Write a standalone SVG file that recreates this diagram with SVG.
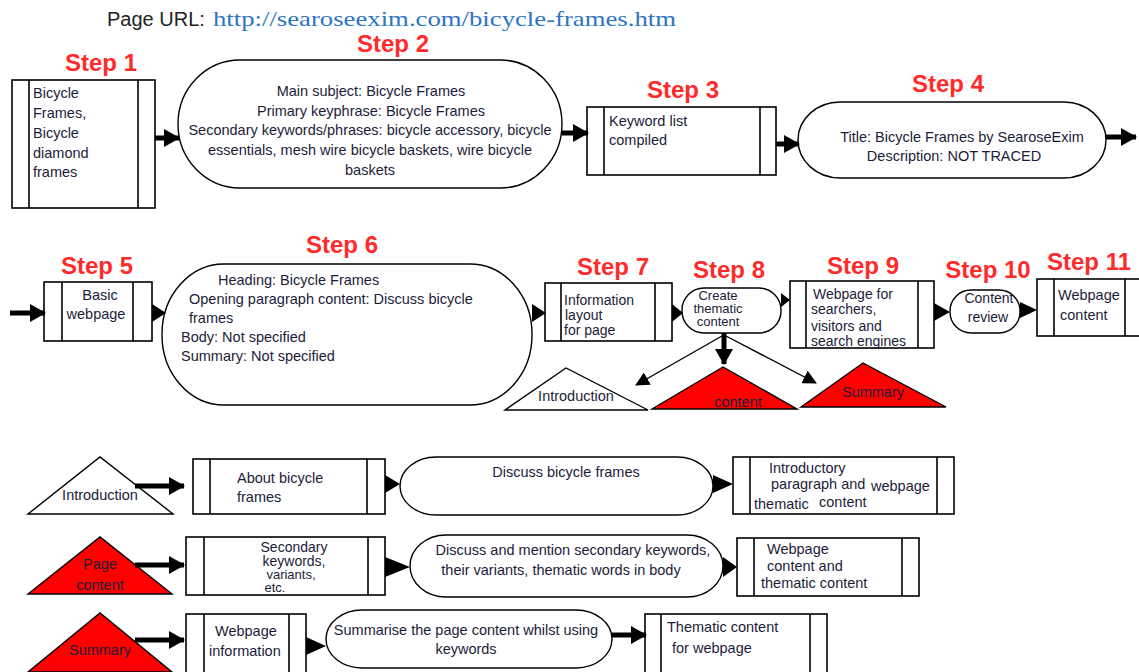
<svg xmlns="http://www.w3.org/2000/svg" width="1139" height="672" viewBox="0 0 1139 672">
<style>
  .bg { fill: #ffffff; }
  .box { fill: #ffffff; stroke: #000; stroke-width: 1.6; }
  .ln { stroke: #000; stroke-width: 1.6; fill: none; }
  .pill { fill: #ffffff; stroke: #000; stroke-width: 1.4; }
  .tri-w { fill: #ffffff; stroke: #000; stroke-width: 1.4; }
  .tri-r { fill: #ff0000; stroke: #000; stroke-width: 1.4; }
  .t { font-family: "Liberation Sans", Arial, sans-serif; font-size: 14.5px; fill: #1c1c3a; }
  .s14 { font-size: 14px; }
  .s13 { font-size: 13px; }
  .tc { text-anchor: middle; }
  .step { font-family: "Liberation Sans", Arial, sans-serif; font-size: 24px; font-weight: bold; fill: #ff2b2b; text-anchor: middle; }
  .thick { stroke: #000; stroke-width: 5; fill: none; marker-end: url(#head); }
  .thin { stroke: #000; stroke-width: 1.4; fill: none; marker-end: url(#headThin); }
  .tip { fill: #000; }
</style>
<defs>
  <marker id="head" markerUnits="userSpaceOnUse" markerWidth="16" markerHeight="18" refX="15" refY="9" orient="auto">
    <path d="M0,0 L16,9 L0,18 z" fill="#000"/>
  </marker>
  <marker id="headThin" markerUnits="userSpaceOnUse" markerWidth="14" markerHeight="14" refX="13" refY="7" orient="auto">
    <path d="M0,0 L14,7 L0,14 z" fill="#000"/>
  </marker>
</defs>
<rect class="bg" x="0" y="0" width="1139" height="672"/>

<g id="title">
  <text x="107" y="26" font-family="Liberation Sans, Arial, sans-serif" font-size="20" fill="#222">Page URL:</text>
  <text x="213" y="26" font-family="Liberation Serif, Times New Roman, serif" font-size="21" fill="#2e74c0" textLength="463" lengthAdjust="spacingAndGlyphs">http://searoseexim.com/bicycle-frames.htm</text>
</g>

<g id="step-labels">
  <text class="step" x="101" y="71">Step 1</text>
  <text class="step" x="393" y="52">Step 2</text>
  <text class="step" x="683" y="98">Step 3</text>
  <text class="step" x="948" y="92">Step 4</text>
  <text class="step" x="97" y="274">Step 5</text>
  <text class="step" x="342" y="253">Step 6</text>
  <text class="step" x="613" y="275">Step 7</text>
  <text class="step" x="729" y="278">Step 8</text>
  <text class="step" x="863" y="274">Step 9</text>
  <text class="step" x="988" y="278">Step 10</text>
  <text class="step" x="1089" y="270">Step 11</text>
</g>

<g id="step1">
  <rect class="box" x="12" y="80" width="143" height="128"/>
  <line class="ln" x1="29" y1="80" x2="29" y2="208"/>
  <line class="ln" x1="138" y1="80" x2="138" y2="208"/>
  <text class="t" x="33" y="98">Bicycle</text>
  <text class="t" x="33" y="118">Frames,</text>
  <text class="t" x="33" y="138">Bicycle</text>
  <text class="t" x="33" y="158">diamond</text>
  <text class="t" x="33" y="177">frames</text>
</g>

<g id="step2">
  <rect class="pill" x="178" y="60" width="384" height="128" rx="62" ry="64"/>
  <text class="t tc" x="371" y="96">Main subject: Bicycle Frames</text>
  <text class="t tc" x="371" y="116">Primary keyphrase: Bicycle Frames</text>
  <text class="t tc" x="370" y="135">Secondary keywords/phrases: bicycle accessory, bicycle</text>
  <text class="t tc" x="370" y="155">essentials, mesh wire bicycle baskets, wire bicycle</text>
  <text class="t tc" x="370" y="175">baskets</text>
</g>

<g id="step3">
  <rect class="box" x="587" y="107" width="189" height="68"/>
  <line class="ln" x1="604" y1="107" x2="604" y2="175"/>
  <line class="ln" x1="760" y1="107" x2="760" y2="175"/>
  <text class="t" x="609" y="126">Keyword list</text>
  <text class="t" x="609" y="145">compiled</text>
</g>

<g id="step4">
  <rect class="pill" x="798" y="102" width="308" height="76" rx="42" ry="38"/>
  <text class="t tc" x="962" y="142">Title: Bicycle Frames by SearoseExim</text>
  <text class="t tc" x="954" y="161">Description: NOT TRACED</text>
</g>

<g id="step5">
  <rect class="box" x="44" y="282" width="108" height="59"/>
  <line class="ln" x1="62" y1="282" x2="62" y2="341"/>
  <line class="ln" x1="133" y1="282" x2="133" y2="341"/>
  <text class="t tc" x="100" y="300">Basic</text>
  <text class="t tc" x="96" y="319">webpage</text>
</g>

<g id="step6">
  <rect class="pill" x="162" y="264" width="370" height="141" rx="62" ry="70"/>
  <text class="t" x="218" y="285">Heading: Bicycle Frames</text>
  <text class="t" x="189" y="304">Opening paragraph content: Discuss bicycle</text>
  <text class="t" x="189" y="323">frames</text>
  <text class="t" x="181" y="342">Body: Not specified</text>
  <text class="t" x="181" y="361">Summary: Not specified</text>
</g>

<g id="step7">
  <rect class="box" x="545" y="283" width="127" height="58"/>
  <line class="ln" x1="561" y1="283" x2="561" y2="341"/>
  <line class="ln" x1="655" y1="283" x2="655" y2="341"/>
  <text class="t s14" x="564" y="305">Information</text>
  <text class="t s14" x="565" y="320">layout</text>
  <text class="t s14" x="564" y="335">for  page</text>
</g>

<g id="step8">
  <rect class="pill" x="682" y="288" width="99" height="45" rx="22" ry="22"/>
  <text class="t s13" x="718" y="300" text-anchor="middle">Create</text>
  <text class="t s13" x="718" y="313" text-anchor="middle">thematic</text>
  <text class="t s13" x="718" y="326" text-anchor="middle">content</text>
</g>

<g id="step9">
  <rect class="box" x="790" y="281" width="144" height="67"/>
  <line class="ln" x1="806" y1="281" x2="806" y2="348"/>
  <line class="ln" x1="918" y1="281" x2="918" y2="348"/>
  <text class="t s14" x="813" y="299">Webpage for</text>
  <text class="t s14" x="811" y="314">searchers,</text>
  <text class="t s14" x="811" y="331">visitors  and</text>
  <text class="t s14" x="811" y="346">search engines</text>
</g>

<g id="step10">
  <rect class="pill" x="950" y="290" width="70" height="43" rx="21" ry="21"/>
  <text class="t s14 tc" x="989" y="303">Content</text>
  <text class="t s14 tc" x="988" y="322">review</text>
</g>

<g id="step11">
  <rect class="box" x="1037" y="279" width="110" height="57"/>
  <line class="ln" x1="1054" y1="279" x2="1054" y2="336"/>
  <line class="ln" x1="1125" y1="279" x2="1125" y2="336"/>
  <text class="t" x="1058" y="300">Webpage</text>
  <text class="t" x="1060" y="320">content</text>
</g>

<g id="tri-introduction">
  <polygon class="tri-w" points="505,410 566,368 648,410"/>
  <text class="t tc" x="576" y="401">Introduction</text>
</g>
<g id="tri-content">
  <polygon class="tri-r" points="652,409 723,367 797,409"/>
  <text class="t tc" x="738" y="407">content</text>
</g>
<g id="tri-summary">
  <polygon class="tri-r" points="801,407 863,363 946,407"/>
  <text class="t tc" x="873" y="397">Summary</text>
</g>

<g id="row-intro">
  <polygon class="tri-w" points="28,514 100,457 173,514"/>
  <text class="t tc" x="100" y="500">Introduction</text>
  <rect class="box" x="193" y="459" width="192" height="55"/>
  <line class="ln" x1="210" y1="459" x2="210" y2="514"/>
  <line class="ln" x1="367" y1="459" x2="367" y2="514"/>
  <text class="t" x="237" y="483">About  bicycle</text>
  <text class="t" x="237" y="502">frames</text>
  <rect class="pill" x="400" y="457" width="313" height="58" rx="36" ry="29"/>
  <text class="t tc" x="566" y="477">Discuss bicycle frames</text>
  <rect class="box" x="733" y="457" width="221" height="57"/>
  <line class="ln" x1="750" y1="457" x2="750" y2="514"/>
  <line class="ln" x1="937" y1="457" x2="937" y2="514"/>
  <text class="t" x="769" y="473">Introductory</text>
  <text class="t" x="771" y="489">paragraph and</text>
  <text class="t" x="871" y="491">webpage</text>
  <text class="t" x="754" y="509">thematic</text>
  <text class="t" x="819" y="507">content</text>
</g>

<g id="row-page-content">
  <polygon class="tri-r" points="28,594 100,537 172,594"/>
  <text class="t tc" x="100" y="569">Page</text>
  <text class="t tc" x="100" y="590">content</text>
  <rect class="box" x="186" y="537" width="199" height="58"/>
  <line class="ln" x1="204" y1="537" x2="204" y2="595"/>
  <line class="ln" x1="368" y1="537" x2="368" y2="595"/>
  <text class="t s14 tc" x="294" y="552">Secondary</text>
  <text class="t s14 tc" x="294" y="566">keywords,</text>
  <text class="t s13 tc" x="291" y="579">variants,</text>
  <text class="t s13 tc" x="275" y="592">etc.</text>
  <rect class="pill" x="410" y="535" width="313" height="62" rx="36" ry="31"/>
  <text class="t tc" x="573" y="555">Discuss and mention secondary keywords,</text>
  <text class="t tc" x="561" y="575">their  variants, thematic words in body</text>
  <rect class="box" x="737" y="538" width="182" height="58"/>
  <line class="ln" x1="754" y1="538" x2="754" y2="596"/>
  <line class="ln" x1="902" y1="538" x2="902" y2="596"/>
  <text class="t" x="767" y="554">Webpage</text>
  <text class="t" x="767" y="571">content and</text>
  <text class="t" x="761" y="588">thematic  content</text>
</g>

<g id="row-summary">
  <polygon class="tri-r" points="28,672 100,613 172,672"/>
  <text class="t tc" x="100" y="655">Summary</text>
  <rect class="box" x="186" y="614" width="120" height="60"/>
  <line class="ln" x1="204" y1="614" x2="204" y2="674"/>
  <line class="ln" x1="289" y1="614" x2="289" y2="674"/>
  <text class="t" x="215" y="636">Webpage</text>
  <text class="t" x="209" y="656">information</text>
  <rect class="pill" x="326" y="610" width="286" height="58" rx="36" ry="29"/>
  <text class="t tc" x="466" y="635">Summarise the page content whilst using</text>
  <text class="t tc" x="466" y="654">keywords</text>
  <rect class="box" x="645" y="614" width="182" height="60"/>
  <line class="ln" x1="661" y1="614" x2="661" y2="674"/>
  <line class="ln" x1="810" y1="614" x2="810" y2="674"/>
  <text class="t" x="667" y="632">Thematic content</text>
  <text class="t" x="672" y="653">for webpage</text>
</g>

<g id="connectors">
  <line class="thick" x1="155" y1="138" x2="179" y2="138"/>
  <line class="thick" x1="562" y1="133" x2="588" y2="133"/>
  <line class="thick" x1="776" y1="144" x2="799" y2="144"/>
  <line class="thick" x1="1106" y1="137" x2="1136" y2="137"/>
  <line class="thick" x1="10" y1="313" x2="45" y2="313"/>
  <polygon class="tip" points="152,304 166,313 152,322"/>
  <polygon class="tip" points="532,304 546,313 532,322"/>
  <polygon class="tip" points="672,304 683,313 672,322"/>
  <polygon class="tip" points="781,293 790,300 781,307"/>
  <polygon class="tip" points="934,303 950,312 934,321"/>
  <polygon class="tip" points="1020,302 1037,310 1020,318"/>
  <line class="thick" x1="724" y1="333" x2="724" y2="364"/>
  <line class="thin" x1="722" y1="336" x2="636" y2="385"/>
  <line class="thin" x1="726" y1="336" x2="816" y2="383"/>
  <line class="thick" x1="135" y1="486" x2="184" y2="486"/>
  <polygon class="tip" points="385,475 400,484 385,493"/>
  <polygon class="tip" points="713,475 733,484 713,493"/>
  <line class="thick" x1="135" y1="565" x2="184" y2="565"/>
  <polygon class="tip" points="385,557 410,567 385,577"/>
  <polygon class="tip" points="723,557 737,567 723,577"/>
  <line class="thick" x1="135" y1="640" x2="184" y2="640"/>
  <polygon class="tip" points="306,637 326,646 306,655"/>
  <line class="thick" x1="612" y1="635" x2="646" y2="635"/>
</g>
</svg>
